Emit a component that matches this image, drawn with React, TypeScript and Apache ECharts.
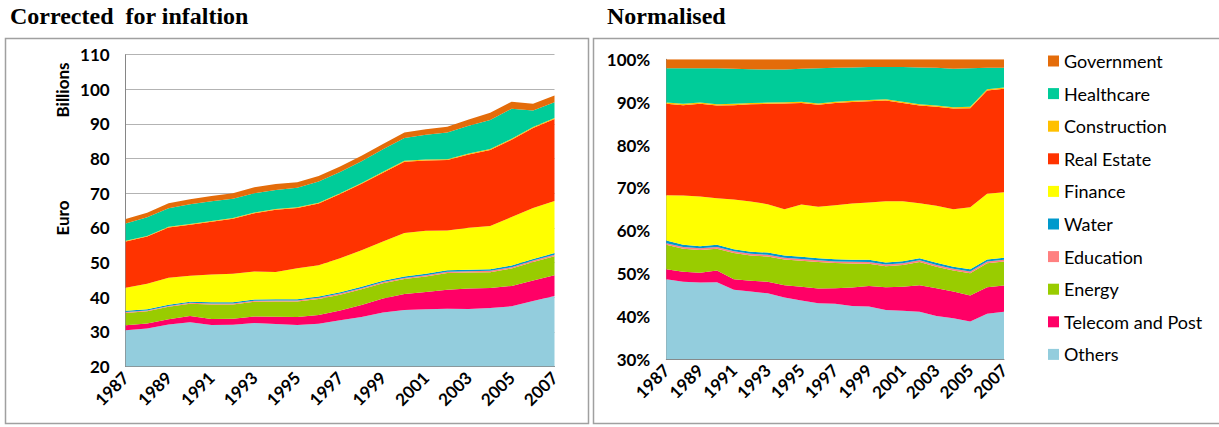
import React, { useEffect, useRef } from "react";
import * as echarts from "echarts";

const years = ["1987","1988","1989","1990","1991","1992","1993","1994","1995","1996","1997","1998","1999","2000","2001","2002","2003","2004","2005","2006","2007"];

// Total value added, billions of euro (left chart, top of the stack)
const totals = [62.6, 64.4, 67.1, 68.3, 69.2, 70.0, 71.7, 72.7, 73.2, 75.0, 77.7, 80.8, 84.2, 87.5, 88.5, 89.2, 91.3, 93.2, 96.4, 95.8, 98.2];

// Shares in %
const others = [48.7, 48.1, 47.9, 48.0, 46.2, 45.8, 45.4, 44.4, 43.7, 43.1, 43.0, 42.5, 42.3, 41.5, 41.3, 41.1, 40.1, 39.6, 38.8, 40.6, 41.1];
const telecom = [2.3, 2.3, 2.3, 2.7, 2.5, 2.5, 2.7, 2.9, 3.2, 3.4, 3.6, 4.3, 4.8, 5.3, 5.6, 6.2, 6.5, 6.2, 6.1, 6.2, 6.1];
const energy = [5.7, 5.4, 5.3, 5.1, 6.1, 5.9, 5.9, 6.0, 6.1, 6.2, 5.9, 5.6, 5.2, 4.9, 5.1, 5.4, 5.0, 4.9, 5.2, 5.6, 5.6];
const education = [0.4, 0.4, 0.4, 0.4, 0.4, 0.4, 0.4, 0.4, 0.4, 0.4, 0.4, 0.4, 0.4, 0.4, 0.4, 0.4, 0.4, 0.4, 0.4, 0.4, 0.4];
const water = [0.6, 0.5, 0.5, 0.5, 0.5, 0.5, 0.5, 0.5, 0.5, 0.5, 0.5, 0.5, 0.5, 0.5, 0.5, 0.5, 0.5, 0.5, 0.5, 0.5, 0.5];
const finance = [10.6, 11.5, 11.6, 10.9, 11.6, 11.7, 11.3, 10.8, 12.2, 12.0, 12.6, 13.1, 13.4, 14.3, 14.0, 12.8, 13.3, 13.4, 14.5, 15.3, 15.3];
const realEstate = [21.3, 21.1, 21.6, 21.6, 22.0, 22.7, 23.4, 24.7, 23.7, 23.8, 23.9, 23.7, 23.6, 23.5, 22.9, 22.8, 23.1, 23.5, 23.1, 24.1, 24.1];
const construction = [0.3, 0.3, 0.3, 0.3, 0.3, 0.3, 0.3, 0.3, 0.3, 0.3, 0.3, 0.3, 0.3, 0.3, 0.3, 0.3, 0.3, 0.3, 0.3, 0.3, 0.3];
const healthcare = [8.0, 8.3, 8.0, 8.4, 8.2, 7.9, 7.7, 7.6, 7.7, 8.2, 7.9, 7.8, 7.7, 7.5, 8.1, 8.6, 8.8, 9.0, 9.0, 5.0, 4.6];
const government = [2.1, 2.1, 2.1, 2.1, 2.2, 2.3, 2.4, 2.4, 2.2, 2.1, 2.0, 1.9, 1.8, 1.8, 1.8, 1.9, 2.0, 2.2, 2.1, 2.0, 2.0];

const leftTicks = [20, 110, 10];
const rightTicks = [30, 100, 10];

// bottom to top
const sectors = [
  { name: "Others", color: "#93CDDD", data: others },
  { name: "Telecom and Post", color: "#FF0066", data: telecom },
  { name: "Energy", color: "#99CC00", data: energy },
  { name: "Education", color: "#FF8080", data: education },
  { name: "Water", color: "#0099CC", data: water },
  { name: "Finance", color: "#FFFF00", data: finance },
  { name: "Real Estate", color: "#FF3300", data: realEstate },
  { name: "Construction", color: "#FFC000", data: construction },
  { name: "Healthcare", color: "#00CC99", data: healthcare },
  { name: "Government", color: "#E46C0A", data: government },
];

const FONT = "Lato";

export default function App() {
  const ref = useRef<HTMLDivElement>(null);
  useEffect(() => {
    const chart = echarts.init(ref.current!, null, { renderer: "svg" });
    const sums = years.map((_, i) => sectors.reduce((s, sec) => s + sec.data[i], 0));

    const series: any[] = [];
    sectors.forEach((sec, k) => {
      const base = {
        type: "line",
        name: sec.name,
        symbol: "none",
        showSymbol: false,
        lineStyle: { width: 0 },
        itemStyle: { color: sec.color },
        areaStyle: { color: sec.color, opacity: 1 },
        emphasis: { disabled: true },
        clip: true,
        z: 2 + k * 0.01,
      };
      series.push({
        ...base,
        stack: "abs",
        xAxisIndex: 0,
        yAxisIndex: 0,
        data: sec.data.map((v, i) => (v / sums[i]) * totals[i]),
      });
      series.push({
        ...base,
        stack: "pct",
        xAxisIndex: 1,
        yAxisIndex: 1,
        data: sec.data.map((v, i) => (v / sums[i]) * 100),
      });
    });

    const axisLabelY = { fontFamily: FONT, fontWeight: "bold", fontSize: 17, color: "#000", margin: 16 };
    const axisLabelX = { fontFamily: FONT, fontWeight: "bold", fontSize: 17, color: "#000", rotate: 45, interval: 1, margin: 8 };
    const axisLine = { show: true, lineStyle: { color: "#868686", width: 1 } };

    const option: any = {
      animation: false,
      backgroundColor: "#ffffff",
      grid: [
        { left: 125.7, right: 1219 - 554.5, top: 54.6, bottom: 427 - 366.6, containLabel: false },
        { left: 666.3, right: 1219 - 1004, top: 59.3, bottom: 427 - 359.3, containLabel: false },
      ],
      xAxis: [
        { type: "category", gridIndex: 0, data: years, boundaryGap: false, axisTick: { show: false }, axisLine, axisLabel: axisLabelX, splitLine: { show: false } },
        { type: "category", gridIndex: 1, data: years, boundaryGap: false, axisTick: { show: false }, axisLine, axisLabel: axisLabelX, splitLine: { show: false } },
      ],
      yAxis: [
        {
          type: "value", gridIndex: 0, min: leftTicks[0], max: leftTicks[1], interval: leftTicks[2],
          axisLine, axisTick: { show: false }, axisLabel: axisLabelY,
          splitLine: { show: true, lineStyle: { color: "#b3b3b3", width: 1 } },
        },
        {
          type: "value", gridIndex: 1, min: rightTicks[0], max: rightTicks[1], interval: rightTicks[2],
          axisLine, axisTick: { show: false }, axisLabel: { ...axisLabelY, formatter: "{value}%" },
          splitLine: { show: false },
        },
      ],
      legend: {
        orient: "vertical",
        left: 1048,
        top: 51,
        padding: 0,
        itemWidth: 11,
        itemHeight: 11,
        itemGap: 12.6,
        icon: "rect",
        selectedMode: false,
        textStyle: { fontFamily: FONT, fontSize: 18, color: "#000", lineHeight: 20 },
        data: sectors.map((s) => s.name).reverse(),
      },
      graphic: [
        { type: "rect", shape: { x: 5.5, y: 38.5, width: 583, height: 385 }, style: { fill: "none", stroke: "#a0a0a0", lineWidth: 1.5 }, z: 0, silent: true },
        { type: "rect", shape: { x: 593.5, y: 38.5, width: 640, height: 385 }, style: { fill: "none", stroke: "#a0a0a0", lineWidth: 1.5 }, z: 0, silent: true },
        { type: "text", x: 10, y: 4, style: { text: "Corrected  for infaltion", fontFamily: "Liberation Serif", fontWeight: "bold", fontSize: 24, fill: "#000", verticalAlign: "top" } },
        { type: "text", x: 607, y: 4, style: { text: "Normalised", fontFamily: "Liberation Serif", fontWeight: "bold", fontSize: 24, fill: "#000", verticalAlign: "top" } },
        { type: "text", x: 62, y: 90, rotation: Math.PI / 2, style: { text: "Billions", fontFamily: FONT, fontWeight: "bold", fontSize: 17, fill: "#000", align: "center", verticalAlign: "middle" } },
        { type: "text", x: 62, y: 218, rotation: Math.PI / 2, style: { text: "Euro", fontFamily: FONT, fontWeight: "bold", fontSize: 17, fill: "#000", align: "center", verticalAlign: "middle" } },
      ],
      series,
    };
    chart.setOption(option);
    return () => chart.dispose();
  }, []);
  return <div ref={ref} style={{ position: "absolute", left: 0, top: 0, width: 1219, height: 427, background: "#fff" }} />;
}
